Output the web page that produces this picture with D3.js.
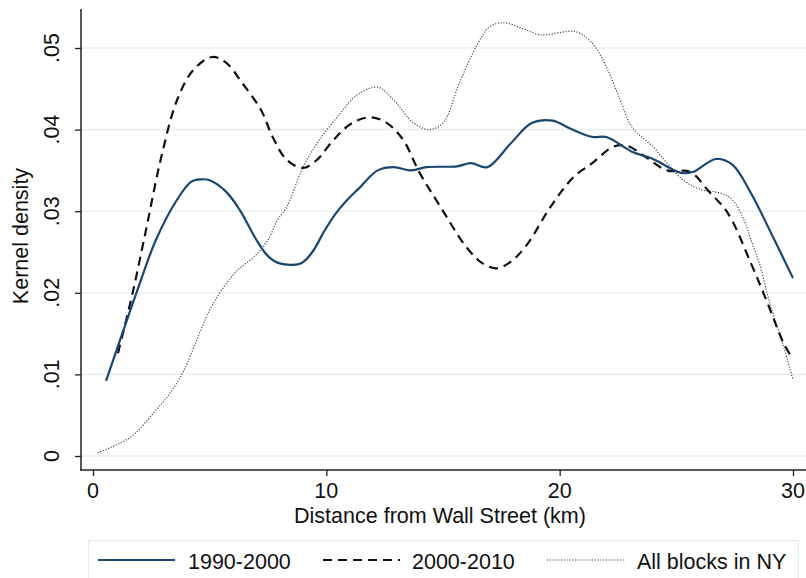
<!DOCTYPE html>
<html><head><meta charset="utf-8">
<script src="https://cdn.jsdelivr.net/npm/d3@7"></script>
<style>html,body{margin:0;padding:0;background:#fff;}svg{display:block;font-family:"Liberation Sans",Arial,Helvetica,sans-serif;}</style>
</head><body>
<svg id="c" width="806" height="578"></svg>
<script>
const xTicks = [0, 10, 20, 30];
const yTicks = [0, 0.01, 0.02, 0.03, 0.04, 0.05];
const yTickLabels = ["0", ".01", ".02", ".03", ".04", ".05"];
const seriesNames = ["1990-2000", "2000-2010", "All blocks in NY"];

const x1990 = [0.56,1.9,2.7,3.6,4.2,4.6,5.0,5.7,6.3,7.0,7.5,8.0,8.9,9.4,9.9,10.4,10.9,11.4,12.2,12.9,13.6,14.3,15.6,16.2,16.9,17.9,18.8,19.7,20.4,21.4,22.0,23.1,24.0,25.2,25.7,26.7,27.4,28.2,29.2,30.0];
const y1990 = [.0092,.0203,.0265,.0314,.0336,.0339,.0338,.0324,.0301,.0265,.0245,.0236,.0236,.0250,.0275,.0297,.0314,.0328,.0350,.0354,.0350,.0354,.0355,.0359,.0354,.0383,.0408,.0411,.0402,.0391,.0391,.0373,.0364,.0347,.0348,.0364,.0357,.0322,.0265,.0218];

const x2000 = [1.07,1.7,2.3,2.9,3.6,4.3,5.1,5.7,6.4,7.2,7.7,8.3,9.0,9.6,10.3,11.1,11.9,12.6,13.3,14.0,14.9,16.0,16.7,17.3,17.9,18.6,19.6,20.6,21.4,22.3,22.9,23.7,24.6,25.6,26.4,27.2,28.2,28.9,29.6,29.95];
const y2000 = [.0126,.0200,.0281,.0363,.0436,.0473,.0489,.0482,.0457,.0424,.0391,.0363,.0353,.0363,.0387,.0408,.0415,.0408,.0387,.0347,.0305,.0256,.0236,.0230,.0238,.0259,.0305,.0342,.0359,.0379,.0380,.0366,.0350,.0348,.0324,.0298,.0236,.0188,.0138,.0121];

const xAll = [0.2,1.6,2.6,3.3,3.9,4.5,5.0,5.6,6.2,6.9,7.5,7.9,8.3,9.0,9.7,10.6,11.3,12.2,12.9,13.7,14.4,15.0,15.7,16.5,17.0,17.6,18.4,19.2,20.0,20.7,21.4,22.0,22.6,23.1,24.0,24.6,25.3,26.0,26.9,27.4,27.9,28.2,28.6,29.0,29.6,30.0];
const yAll = [.0004,.0023,.0053,.0077,.0105,.0146,.0179,.0207,.0228,.0244,.0265,.0289,.0305,.0354,.0387,.0420,.0442,.0452,.0436,.0409,.0400,.0408,.0457,.0506,.0526,.0531,.0524,.0516,.0519,.0520,.0506,.0477,.0436,.0403,.0379,.0359,.0338,.0327,.0322,.0314,.0289,.0265,.0232,.0188,.0134,.0093];

const svg = d3.select("#c");
const X = d3.scaleLinear().domain([0, 30]).range([93, 793]);
const Y = d3.scaleLinear().domain([0, 0.05]).range([456, 48]);
const pLeft = 81, pRight = 806, pTop = 9, pBottom = 470;
const FS = 21.5;

// gridlines
svg.append("g").selectAll("line").data(yTicks).join("line")
  .attr("x1", pLeft).attr("x2", pRight)
  .attr("y1", d => Y(d)).attr("y2", d => Y(d))
  .attr("stroke", "#eaf1f3").attr("stroke-width", 1.6);

// axes
const yAxis = d3.axisLeft(Y).tickValues(yTicks).tickSize(6).tickFormat("");
const gy = svg.append("g").attr("transform", `translate(${pLeft},0)`).call(yAxis);
gy.select(".domain").remove();
gy.selectAll(".tick line").attr("stroke", "#222").attr("stroke-width", 1.3);
const xAxis = d3.axisBottom(X).tickValues(xTicks).tickSize(6).tickFormat("");
const gx = svg.append("g").attr("transform", `translate(0,${pBottom})`).call(xAxis);
gx.select(".domain").remove();
gx.selectAll(".tick line").attr("stroke", "#222").attr("stroke-width", 1.3);
svg.append("line").attr("x1", pLeft).attr("x2", pLeft).attr("y1", pTop).attr("y2", pBottom + 0.7)
  .attr("stroke", "#222").attr("stroke-width", 1.5);
svg.append("line").attr("x1", pLeft - 0.7).attr("x2", pRight).attr("y1", pBottom).attr("y2", pBottom)
  .attr("stroke", "#222").attr("stroke-width", 1.5);

// tick labels
svg.append("g").selectAll("text").data(xTicks).join("text")
  .attr("x", d => X(d)).attr("y", 498).attr("text-anchor", "middle")
  .attr("font-size", FS).attr("fill", "#111").text(d => d);
svg.append("g").selectAll("text").data(yTicks).join("text")
  .attr("transform", (d) => `translate(59,${Y(d)}) rotate(-90)`)
  .attr("text-anchor", "middle").attr("font-size", FS).attr("fill", "#111")
  .text((d, i) => yTickLabels[i]);

// titles
svg.append("text").attr("x", 440).attr("y", 523).attr("text-anchor", "middle")
  .attr("font-size", FS).attr("fill", "#111").text("Distance from Wall Street (km)");
svg.append("text").attr("transform", "translate(28,236) rotate(-90)").attr("text-anchor", "middle")
  .attr("font-size", FS).attr("fill", "#111").text("Kernel density");

// series
const styles = [
  {stroke: "#1a476f", width: 2.2, dash: null},
  {stroke: "#111", width: 2.2, dash: "9,6"},
  {stroke: "#4a4a4a", width: 1.2, dash: "1.2,1.6"}
];
const data = [
  x1990.map((v, i) => [v, y1990[i]]),
  x2000.map((v, i) => [v, y2000[i]]),
  xAll.map((v, i) => [v, yAll[i]])
];
const line = d3.line().x(d => X(d[0])).y(d => Y(d[1])).curve(d3.curveCatmullRom.alpha(0.5));
[2, 1, 0].forEach(k => {
  svg.append("path").attr("d", line(data[k])).attr("fill", "none")
    .attr("stroke", styles[k].stroke).attr("stroke-width", styles[k].width)
    .attr("stroke-dasharray", styles[k].dash).attr("stroke-linejoin", "round");
});

// legend
svg.append("rect").attr("x", 88.5).attr("y", 540.5).attr("width", 710).attr("height", 60)
  .attr("fill", "#fff").attr("stroke", "#e6edef").attr("stroke-width", 1.2);
const legX = [{l0: 98, l1: 175, t: 188}, {l0: 323, l1: 400, t: 412}, {l0: 547, l1: 625, t: 637}];
const lg = svg.append("g");
seriesNames.forEach((name, k) => {
  lg.append("line").attr("x1", legX[k].l0).attr("x2", legX[k].l1).attr("y1", 560).attr("y2", 560)
    .attr("stroke", styles[k].stroke).attr("stroke-width", styles[k].width)
    .attr("stroke-dasharray", styles[k].dash);
  lg.append("text").attr("x", legX[k].t).attr("y", 569).attr("font-size", FS).attr("fill", "#111").text(name);
});
</script>
</body></html>
